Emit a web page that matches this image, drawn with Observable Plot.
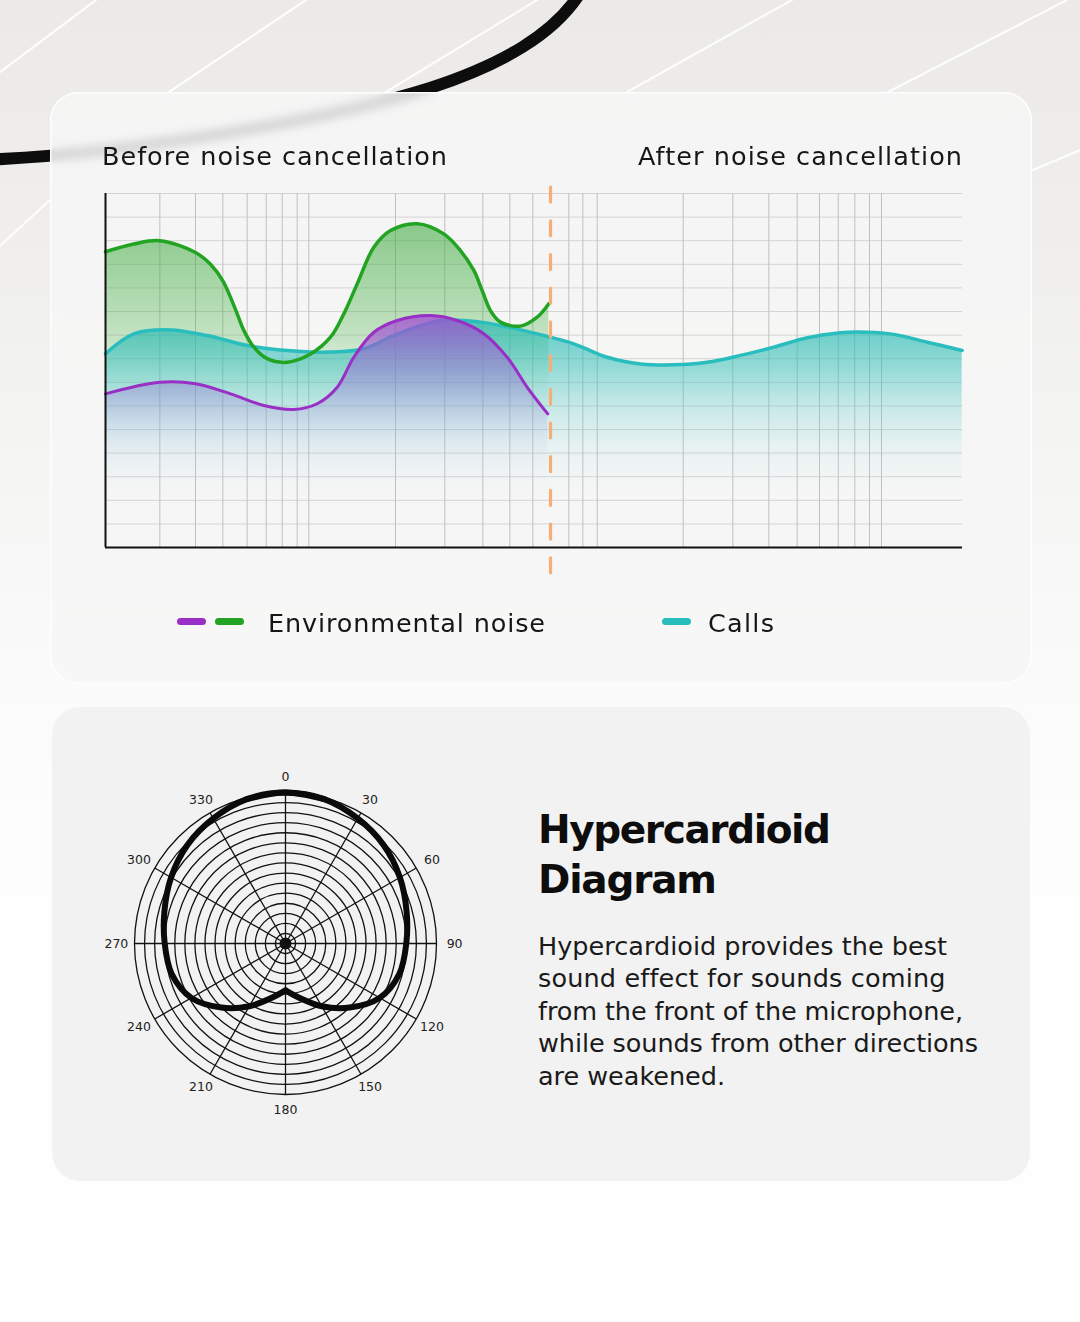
<!DOCTYPE html>
<html><head><meta charset="utf-8">
<script src="https://cdn.jsdelivr.net/npm/d3@7"></script>
<script src="https://cdn.jsdelivr.net/npm/@observablehq/plot@0.6"></script>
<style>
html,body{margin:0;padding:0}
body{width:1080px;height:1322px;position:relative;overflow:hidden;font-family:"DejaVu Sans",Inter,sans-serif;color:#161616;
background:linear-gradient(180deg,#ebeae7 0px,#efeeec 220px,#f5f5f4 470px,#fbfbfb 690px,#fefefe 900px,#fefefe 1322px);}
#deco{position:absolute;left:0;top:0}
.card{position:absolute;border-radius:28px;}
#card1{left:50px;top:92px;width:982px;height:592px;background:rgba(246,246,246,0.87);box-shadow:inset 0 0 0 1.5px rgba(255,255,255,0.95);backdrop-filter:blur(4px);-webkit-backdrop-filter:blur(4px);}
#card2{left:52px;top:707px;width:978px;height:474px;background:#f2f2f2;}
.pill{position:absolute;height:7px;border-radius:4px;}
</style></head><body>
<svg id="deco" width="1080" height="700">
  <g stroke="#ffffff" stroke-width="2.2" fill="none" opacity="0.9" stroke-linecap="round">
    <path d="M0 72 L96 0"/>
    <path d="M169 92 L306 0"/>
    <path d="M386 92 L537 0"/>
    <path d="M627 92 L792 0"/>
    <path d="M888 92 L1067 0"/>
    <path d="M1033 170 L1080 150"/>
    <path d="M0 246 L50 200"/>
  </g>
  <path d="M -20 160 C 120 155, 330 120, 430 88 C 500 65, 555 35, 582 -10" stroke="#0d0d0d" stroke-width="12" fill="none"/>
</svg>
<div class="card" id="card1"></div>
<div class="card" id="card2"></div>
<script>
// ---------- DATA ----------
const FONT = "'DejaVu Sans', Inter, sans-serif";
const TITLE_FONT = "'DejaVu Sans', Inter, sans-serif";
const titleBefore = "Before noise cancellation";
const titleAfter = "After noise cancellation";
const legendNoise = "Environmental noise";
const legendCalls = "Calls";

// x in relative units (0..100 across the plot), y in grid units (0..15)
const greenX = [0, 3.3, 6.34, 10.5, 12.25, 13.69, 14.59, 15.37, 16.15, 17.31, 18.87, 21.2, 23.92, 26.25, 27.81, 29.37, 31.31, 33.26, 36.37, 39.47, 41.42, 42.98, 43.95, 44.92, 46.09, 48.42, 50.37, 51.73];
const greenY = [12.53, 12.86, 13.0, 12.5, 12.0, 11.3, 10.6, 9.9, 9.19, 8.49, 8.0, 7.85, 8.2, 8.91, 9.9, 11.17, 12.72, 13.43, 13.72, 13.29, 12.58, 11.74, 10.89, 10.04, 9.55, 9.38, 9.76, 10.33];

const purpleX = [0, 6.34, 10.5, 14.59, 18.47, 21.97, 24.7, 27.04, 28.97, 31.31, 34.04, 37.92, 41.04, 44.14, 46.87, 49.21, 51.61];
const purpleY = [6.51, 7.0, 6.94, 6.51, 6.02, 5.85, 6.09, 6.79, 8.06, 9.12, 9.62, 9.83, 9.62, 9.06, 8.06, 6.79, 5.66];

const tealX = [0, 3.3, 7.58, 11.87, 16.53, 21.2, 26.25, 30.14, 34.04, 39.09, 43.76, 48.81, 54.64, 58.54, 62.43, 66.31, 70.21, 74.1, 77.98, 81.88, 85.76, 88.88, 91.97, 95.88, 99.96];
const tealY = [8.21, 9.05, 9.22, 8.98, 8.56, 8.35, 8.28, 8.42, 9.05, 9.62, 9.55, 9.19, 8.63, 8.06, 7.78, 7.74, 7.85, 8.14, 8.49, 8.89, 9.1, 9.12, 9.03, 8.7, 8.35];

const xGrid = [6.34, 10.5, 13.69, 16.53, 18.75, 20.62, 22.37, 23.72, 33.84, 39.59, 44.03, 47.18, 49.86, 54.06, 55.70, 57.38, 67.41, 73.20, 77.40, 80.71, 83.31, 85.50, 87.43, 89.15, 90.55];
const yGrid = [1, 2, 3, 4, 5, 6, 7, 8, 9, 10, 11, 12, 13, 14, 15];
const dividerX = 51.93;

// polar pattern (degrees, relative sensitivity 0..1), right half; mirrored for the left
const polarAngles = [0, 15, 30, 45, 60, 75, 90, 105, 120, 135, 150, 165, 180];
const polarGain = [1.0, 0.99, 0.956, 0.92, 0.875, 0.83, 0.80, 0.78, 0.72, 0.60, 0.48, 0.375, 0.31];
const ringLevels = [1, 2, 3, 4, 5, 6, 7, 8, 9, 10, 11, 12, 13, 14, 15];
const labelAngles = [0, 30, 60, 90, 120, 150, 180, 210, 240, 270, 300, 330];

const polarTitle = ["Hypercardioid", "Diagram"];
const polarBody = ["Hypercardioid provides the best", "sound effect for sounds coming", "from the front of the microphone,", "while sounds from other directions", "are weakened."];

const COLORS = {green: "#22a322", purple: "#9a2fc6", teal: "#2abdbd", divider: "#f6ae76"};

// ---------- helpers ----------
const toRows = (xs, ys) => xs.map((x, i) => ({x, y: ys[i]}));
const green = toRows(greenX, greenY);
const purple = toRows(purpleX, purpleY);
const teal = toRows(tealX, tealY);

function addDefs(svg, grads) {
  const ns = "http://www.w3.org/2000/svg";
  const defs = document.createElementNS(ns, "defs");
  for (const g of grads) {
    const lg = document.createElementNS(ns, "linearGradient");
    lg.setAttribute("id", g.id);
    lg.setAttribute("x1", "0"); lg.setAttribute("y1", "0"); lg.setAttribute("x2", "0"); lg.setAttribute("y2", "1");
    for (const [off, color, op] of g.stops) {
      const s = document.createElementNS(ns, "stop");
      s.setAttribute("offset", off); s.setAttribute("stop-color", color); s.setAttribute("stop-opacity", op);
      lg.appendChild(s);
    }
    defs.appendChild(lg);
  }
  svg.insertBefore(defs, svg.firstChild);
}

function addText(str, {x, right, baseline, size, weight = 400, width, color = "#161616", font = FONT}) {
  const el = document.createElement("div");
  el.textContent = str;
  Object.assign(el.style, {position: "absolute", left: "0px", top: "0px", whiteSpace: "nowrap",
    fontSize: size + "px", fontWeight: weight, lineHeight: "1", color, fontFamily: font});
  document.body.appendChild(el);
  if (width) {
    const w0 = el.getBoundingClientRect().width;
    el.style.letterSpacing = ((width - w0) / Math.max(1, str.length - 1)) + "px";
  }
  const probe = document.createElement("span");
  probe.style.cssText = "display:inline-block;width:0;height:0;vertical-align:baseline";
  el.appendChild(probe);
  const b = probe.getBoundingClientRect().top - el.getBoundingClientRect().top;
  el.removeChild(probe);
  const w = width || el.getBoundingClientRect().width;
  el.style.top = (baseline - b) + "px";
  el.style.left = (right != null ? right - w : x) + "px";
  return el;
}

// ---------- chart 1 ----------
const curve = "catmull-rom";
const chart = Plot.plot({
  width: 1080, height: 420,
  marginLeft: 105, marginRight: 118, marginTop: 23, marginBottom: 43,
  x: {domain: [0, 100], axis: null},
  y: {domain: [0, 15], axis: null},
  style: {background: "transparent", overflow: "visible", fontFamily: FONT},
  marks: [
    Plot.ruleY(yGrid, {stroke: "#d4d4d4", strokeWidth: 1}),
    Plot.ruleX(xGrid, {stroke: "#c0c0c0", strokeWidth: 1}),
    Plot.areaY(green, {x: "x", y1: 0, y2: "y", fill: "url(#gradGreen)", curve}),
    Plot.areaY(teal, {x: "x", y1: 0, y2: "y", fill: "url(#gradTeal)", curve}),
    Plot.line(teal, {x: "x", y: "y", stroke: COLORS.teal, strokeWidth: 3.5, curve}),
    Plot.areaY(purple, {x: "x", y1: 0, y2: "y", fill: "url(#gradPurple)", curve}),
    Plot.line(purple, {x: "x", y: "y", stroke: COLORS.purple, strokeWidth: 3, curve}),
    Plot.line(green, {x: "x", y: "y", stroke: COLORS.green, strokeWidth: 3.5, curve}),
    Plot.ruleX([0], {stroke: "#111", strokeWidth: 2}),
    Plot.ruleY([0], {stroke: "#111", strokeWidth: 2}),
    Plot.ruleX([dividerX], {y1: 15.25, y2: -1.27, stroke: COLORS.divider, strokeWidth: 3.2, strokeDasharray: "15 18.7", strokeLinecap: "round"})
  ]
});
addDefs(chart, [
  {id: "gradGreen", stops: [[0, "#3aa83a", 0.58], [0.35, "#4cb44c", 0.3], [0.5, "#6cc46c", 0.08], [0.62, "#8fd08f", 0]]},
  {id: "gradTeal", stops: [[0, "#22b8b0", 0.72], [0.2, "#2cbdb6", 0.5], [0.4, "#45c6c0", 0.25], [0.6, "#7ad6d2", 0.08], [0.78, "#a0e0dd", 0]]},
  {id: "gradPurple", stops: [[0, "#a44ad2", 0.78], [0.3, "#9468d2", 0.38], [0.5, "#9a90da", 0.12], [0.65, "#b0b0e4", 0.03], [0.8, "#c8c8ec", 0]]}
]);
Object.assign(chart.style, {position: "absolute", left: "0px", top: "170px", maxWidth: "none"});
document.body.appendChild(chart);

addText(titleBefore, {x: 102, baseline: 165, size: 25.5, width: 345});
addText(titleAfter, {right: 962, baseline: 165, size: 25.5, width: 324});

// legend
function pill(left, width, color) {
  const d = document.createElement("div");
  d.className = "pill";
  Object.assign(d.style, {left: left + "px", top: "618px", width: width + "px", background: color});
  document.body.appendChild(d);
}
pill(177, 29, COLORS.purple);
pill(215, 29, COLORS.green);
pill(662, 29, COLORS.teal);
addText(legendNoise, {x: 268, baseline: 632, size: 25.5, width: 277});
addText(legendCalls, {x: 708, baseline: 632, size: 25.5, width: 66});

// ---------- polar chart ----------
const R = 151, PW = 400, PH = 380;
const rad = a => a * Math.PI / 180;
const fullAngles = [...polarAngles, ...polarAngles.slice(1, -1).reverse().map(a => 360 - a)];
const fullGain = [...polarGain, ...polarGain.slice(1, -1).reverse()];
const gainAt = a => fullGain[fullAngles.indexOf(((a % 360) + 360) % 360)];
const pattern = [];
// right half (with a small overlap over the top) and left half, joined at the rear cusp
for (const a of [-15, ...polarAngles]) pattern.push({half: "R", a, g: gainAt(a)});
for (const a of [...polarAngles.map(a => 180 + a), 375]) pattern.push({half: "L", a, g: gainAt(a)});

const polar = Plot.plot({
  width: PW, height: PH, margin: 0,
  x: {domain: [-PW / 2 / R, PW / 2 / R], axis: null},
  y: {domain: [-PH / 2 / R, PH / 2 / R], axis: null},
  r: {type: "linear", domain: [0, 15], range: [0, R]},
  style: {background: "transparent", overflow: "visible", fontFamily: FONT},
  marks: [
    Plot.dot(ringLevels, {x: () => 0, y: () => 0, r: d => d, stroke: "#121212", strokeWidth: 1.3, fill: "none"}),
    Plot.link(labelAngles, {x1: () => 0, y1: () => 0, x2: a => Math.sin(rad(a)), y2: a => Math.cos(rad(a)), stroke: "#121212", strokeWidth: 1.3}),
    Plot.dot([0], {x: () => 0, y: () => 0, r: 6, fill: "#121212"}),
    Plot.line(pattern, {x: d => d.g * Math.sin(rad(d.a)), y: d => d.g * Math.cos(rad(d.a)), z: "half",
      stroke: "#0a0a0a", strokeWidth: 6, curve: "catmull-rom", strokeLinejoin: "round", strokeLinecap: "round"}),
    Plot.text(labelAngles, {x: a => 1.12 * Math.sin(rad(a)), y: a => 1.1 * Math.cos(rad(a)), text: a => String(a),
      fontSize: 12.5, fill: "#222", textAnchor: "middle", lineAnchor: "middle"})
  ]
});
Object.assign(polar.style, {position: "absolute", left: (285 - PW / 2) + "px", top: (943.3 - PH / 2) + "px", maxWidth: "none"});
document.body.appendChild(polar);

addText(polarTitle[0], {x: 538, baseline: 843, size: 39, weight: 700, width: 293, font: TITLE_FONT, color: "#0d0d0d"});
addText(polarTitle[1], {x: 538, baseline: 893, size: 39, weight: 700, width: 179, font: TITLE_FONT, color: "#0d0d0d"});
const bodyBase = [955, 987, 1020, 1052, 1085];
const bodyW = [409, 407, 425, 440, 187];
polarBody.forEach((t, i) => addText(t, {x: 538, baseline: bodyBase[i], size: 25.5, width: bodyW[i], color: "#1a1a1a"}));
</script>
</body></html>
